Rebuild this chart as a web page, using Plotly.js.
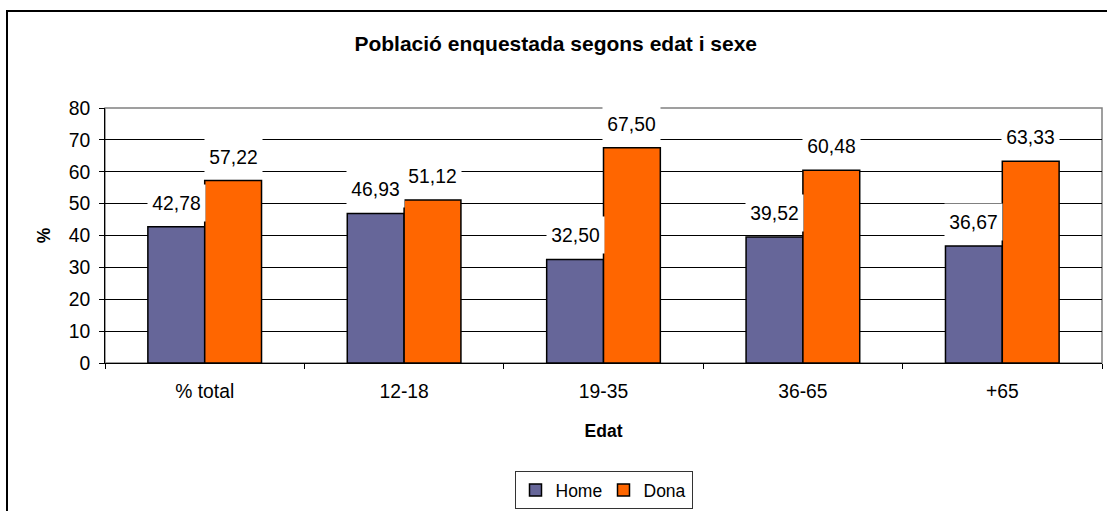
<!DOCTYPE html>
<html>
<head>
<meta charset="utf-8">
<script src="https://cdn.plot.ly/plotly-3.0.1.min.js"></script>
<style>html,body{margin:0;padding:0;background:#fff;}#chart{width:1107px;height:511px;}</style>
</head>
<body>
<div id="chart"></div>
<script>
const categories = ['% total', '12-18', '19-35', '36-65', '+65'];
const homeValues = [42.78, 46.93, 32.50, 39.52, 36.67];
const donaValues = [57.22, 51.12, 67.50, 60.48, 63.33];
const seriesNames = ['Home', 'Dona'];
const yTicks = [0, 10, 20, 30, 40, 50, 60, 70, 80];

const FONT = 'Arial, "Liberation Sans", sans-serif';
const fmt = v => v.toFixed(2).replace('.', ',');

const traces = [
  {type: 'bar', name: seriesNames[0], x: categories, y: homeValues,
   marker: {color: '#666699', line: {color: '#000', width: 1.5}}},
  {type: 'bar', name: seriesNames[1], x: categories, y: donaValues,
   marker: {color: '#FF6600', line: {color: '#000', width: 1.5}}}
];

const annotations = [];
[homeValues, donaValues].forEach((vals, s) => {
  vals.forEach((v, i) => {
    annotations.push({
      x: i, y: v, xref: 'x', yref: 'y',
      xshift: s === 0 ? -28.4 : 28.4, yshift: 24,
      text: fmt(v), showarrow: false,
      xanchor: 'center', yanchor: 'middle',
      width: 57, height: 36, bgcolor: '#fff', borderpad: 0,
      font: {family: FONT, size: 19.3, color: '#000'}
    });
  });
});

const layout = {
  width: 1107, height: 511,
  margin: {l: 105, r: 5, t: 108, b: 148},
  paper_bgcolor: '#fff', plot_bgcolor: '#fff',
  font: {family: FONT, size: 19.3, color: '#000'},
  title: {text: '<b>Població enquestada segons edat i sexe</b>', xref: 'container', yref: 'container',
          x: 0.502, y: 1 - 44/511, xanchor: 'center', yanchor: 'middle',
          font: {family: FONT, size: 21, color: '#000'}},
  barmode: 'group', bargap: 0.43, bargroupgap: 0,
  showlegend: true,
  legend: {orientation: 'h', xref: 'paper', x: 0.5, xanchor: 'center',
           yref: 'container', y: 1 - 471/511, yanchor: 'top',
           bgcolor: '#fff', bordercolor: '#333', borderwidth: 1,
           font: {family: FONT, size: 17.5, color: '#000'}, itemwidth: 30, tracegroupgap: 0,
           entrywidth: 43, entrywidthmode: 'pixels'},
  xaxis: {type: 'category', range: [-0.5, categories.length - 0.5], autorange: false, automargin: false,
          showline: true, linecolor: '#000', linewidth: 1,
          ticks: 'outside', tickson: 'boundaries', ticklen: 5, tickcolor: '#000',
          showgrid: false, zeroline: false, ticklabelstandoff: 11, tickangle: 0,
          tickfont: {family: FONT, size: 19.3, color: '#000'},
          title: {text: '<b>Edat</b>', font: {family: FONT, size: 17.5, color: '#000'}, standoff: 23}},
  yaxis: {range: [0, 80], autorange: false, automargin: false, tickvals: yTicks, ticktext: yTicks.map(String),
          showline: true, linecolor: '#000', linewidth: 1,
          ticks: 'outside', ticklen: 5, tickcolor: '#000', ticklabelstandoff: 5,
          showgrid: true, gridcolor: '#000', gridwidth: 1, zeroline: false,
          tickfont: {family: FONT, size: 19.3, color: '#000'},
          title: {text: '<b>%</b>', font: {family: FONT, size: 17.5, color: '#000'}, standoff: 13}},
  annotations: annotations,
  shapes: [
    {type: 'rect', xref: 'paper', yref: 'paper', x0: 0, x1: 1, y0: 0, y1: 1,
     line: {color: '#808080', width: 1.5}, layer: 'below'},
    {type: 'rect', xref: 'paper', yref: 'paper', x0: (7-105)/997, x1: 1.2, y0: -1, y1: (363-11)/255,
     line: {color: '#000', width: 2}, layer: 'below'}
  ]
};

Plotly.newPlot('chart', traces, layout, {displayModeBar: false, staticPlot: true});
</script>
</body>
</html>
